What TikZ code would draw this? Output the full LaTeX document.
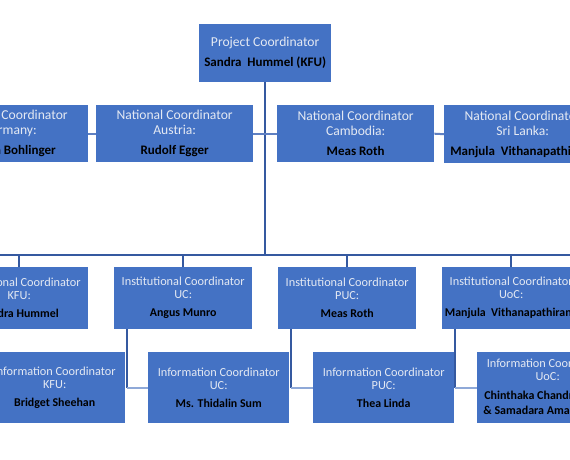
\documentclass[tikz,border=0pt]{standalone}
\usepackage{fontspec}
\setmainfont{Carlito}
\definecolor{boxblue}{HTML}{4472C4}
\definecolor{labcol}{HTML}{E4E9F3}
\definecolor{linedark}{HTML}{3559A0}
\definecolor{linelight}{HTML}{8FA9D8}
\definecolor{linemid}{HTML}{5F80C2}
\newcommand\bigfont{\fontsize{13.6}{15}\selectfont}
\newcommand\bigname{\fontsize{13}{15}\selectfont\bfseries\color{black}}
\newcommand\smallfont{\fontsize{12.3}{13}\selectfont}
\newcommand\smallname{\fontsize{11.9}{13}\selectfont\bfseries\color{black}}
\newcommand\uocname{\fontsize{12}{14}\selectfont\bfseries\color{black}}
\begin{document}
\begin{tikzpicture}[x=1pt,y=-1pt,
  orgbox/.style={fill=boxblue, draw=none, inner sep=0pt, anchor=north west, align=center, text=labcol},
  natbox/.style={orgbox, minimum width=157pt, minimum height=57pt, font=\bigfont},
  instbox/.style={orgbox, minimum width=138pt, minimum height=62pt, font=\smallfont},
  infobox/.style={orgbox, minimum width=141pt, minimum height=71pt, font=\smallfont},
  trunk/.style={draw=linedark, line width=2pt},
  sidelink/.style={draw=linemid, line width=2pt},
  lightlink/.style={draw=linelight, line width=2pt}]
\useasboundingbox (0,0) rectangle (570,459);
\fill[white] (0,0) rectangle (570,459);
\clip (0,0) rectangle (570,459);

% top
\node[orgbox, minimum width=132pt, minimum height=58pt, font=\bigfont] (top) at (199,24)
  {Project Coordinator\\[5pt]{\bigname Sandra\ \ Hummel (KFU)}};

% national row
\node[natbox] (ger) at (-69,105) {National Coordinator\\Germany:\\[5pt]{\bigname Sandra Bohlinger}};
\node[natbox] (aus) at (96,105) {National Coordinator\\Austria:\\[5pt]{\bigname Rudolf Egger}};
\node[natbox] (cam) at (277,105) {National Coordinator\\Cambodia:\\[5pt]{\bigname Meas Roth}};
\node[natbox, minimum height=58pt] (sri) at (444,105) {National Coordinator\\Sri Lanka:\\[5pt]{\bigname Manjula\ \ Vithanapathirana}};

% institutional row
\node[instbox] (kfu) at (-50,267) {Institutional Coordinator\\KFU:\\[5pt]{\smallname Sandra Hummel}};
\node[instbox] (uc) at (114,267) {Institutional Coordinator\\UC:\\[5pt]{\smallname Angus Munro}};
\node[instbox] (puc) at (278,267) {Institutional Coordinator\\PUC:\\[5pt]{\smallname Meas Roth}};
\node[instbox] (uoc) at (442,267) {Institutional Coordinator\\UoC:\\[5pt]{\smallname Manjula\ \ Vithanapathirana}};

% information row
\node[infobox] (ikfu) at (-16,352) {Information Coordinator\\KFU:\\[5pt]{\smallname Bridget Sheehan}};
\node[infobox] (iuc) at (148,352) {Information Coordinator\\UC:\\[5pt]{\smallname Ms. Thidalin Sum}};
\node[infobox] (ipuc) at (313,352) {Information Coordinator\\PUC:\\[5pt]{\smallname Thea Linda}};
\node[infobox] (iuoc) at (477,352) {Information Coordinator\\UoC:\\[6pt]{\uocname Chinthaka Chandrasekara}\\[2pt]{\uocname \&\ Samadara Amarasinghe}};

% connectors
\coordinate (busL) at (-120,255);
\coordinate (busR) at (700,255);
\draw[trunk] (top.south) -- (top.south |- busL);
\draw[trunk] (busL) -- (busR);
\draw[sidelink] (ger.east) -- (aus.west);
\draw[sidelink] (aus.east) -- (cam.west);
\draw[sidelink] (cam.east) -- (sri.west);
\foreach \n in {kfu,uc,puc,uoc}{
  \draw[trunk] (\n.north) -- (\n.north |- busL);
}
\foreach \a/\b in {kfu/ikfu,uc/iuc,puc/ipuc,uoc/iuoc}{
  \draw[trunk] ([xshift=13pt]\a.south west) -- ([xshift=13pt]\a.south west |- \b.west);
  \draw[lightlink] ([xshift=13pt]\a.south west |- \b.west) -- (\b.west);
}
\end{tikzpicture}
\end{document}
